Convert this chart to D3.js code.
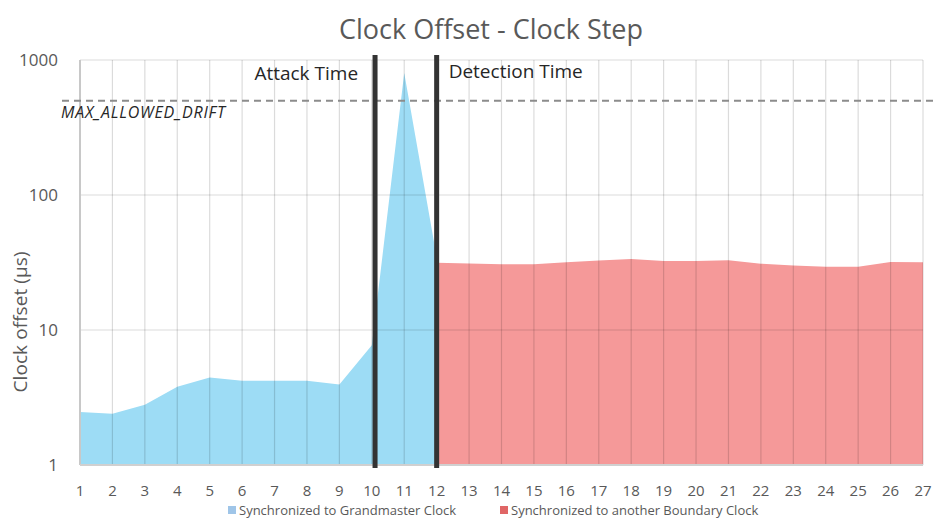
<!DOCTYPE html>
<html>
<head>
<meta charset="utf-8">
<script src="https://cdn.jsdelivr.net/npm/d3@7"></script>
<style>
  body { margin: 0; background: #fff; }
  text { font-family: "Open Sans", sans-serif; }
</style>
</head>
<body>
<div id="chart"></div>
<script>
// samples (x) and measured clock offset in µs
const gmSamples = [1, 2, 3, 4, 5, 6, 7, 8, 9, 10, 11, 12];
const gmOffset = [2.47, 2.4, 2.8, 3.8, 4.45, 4.2, 4.2, 4.2, 3.95, 7.7, 800, 34.7];
const bcSamples = [12, 13, 14, 15, 16, 17, 18, 19, 20, 21, 22, 23, 24, 25, 26, 27];
const bcOffset = [31.5, 31.1, 30.7, 30.7, 31.8, 32.7, 33.6, 32.4, 32.4, 32.9, 31, 30.1, 29.4, 29.4, 31.9, 31.7];
const xTicks = d3.range(1, 28);
const yTicks = [1, 10, 100, 1000];
const maxAllowedDrift = 500;
const markers = [
  {x: 10.1, label: "Attack Time", side: "left"},
  {x: 12, label: "Detection Time", side: "right"}
];
const seriesNames = ["Synchronized to Grandmaster Clock", "Synchronized to another Boundary Clock"];
const seriesColors = ["#9ddcf5", "#f59999"];

const width = 935, height = 519;
const margin = {top: 60, right: 12, bottom: 54, left: 80};

const svg = d3.select("#chart").append("svg")
    .attr("width", width)
    .attr("height", height);

const x = d3.scaleLinear().domain([1, 27]).range([margin.left, width - margin.right]);
const y = d3.scaleLog().domain([1, 1000]).range([height - margin.bottom, margin.top]);

// title
svg.append("text")
    .attr("x", 491).attr("y", 39)
    .attr("text-anchor", "middle")
    .attr("font-size", 27)
    .attr("fill", "#595959")
    .text("Clock Offset - Clock Step");

// areas
const area = (xs) => d3.area()
    .x((d, i) => x(xs[i]))
    .y0(y(1))
    .y1(d => y(d));

svg.append("path")
    .datum(gmOffset)
    .attr("fill", seriesColors[0])
    .attr("d", area(gmSamples));

svg.append("path")
    .datum(bcOffset)
    .attr("fill", seriesColors[1])
    .attr("d", area(bcSamples));

// grid drawn over the areas (semi-transparent)
const grid = svg.append("g").attr("stroke", "rgba(0,0,0,0.14)").attr("stroke-width", 1.2);
grid.selectAll(".vg").data(xTicks.slice(1)).join("line")
    .attr("x1", d => x(d)).attr("x2", d => x(d))
    .attr("y1", y(1000)).attr("y2", y(1));
grid.selectAll(".hg").data(yTicks.slice(1)).join("line")
    .attr("x1", x(1)).attr("x2", x(27))
    .attr("y1", d => y(d)).attr("y2", d => y(d));

// axis lines
svg.append("line")
    .attr("x1", x(1)).attr("x2", x(1))
    .attr("y1", y(1000)).attr("y2", y(1))
    .attr("stroke", "#c8c8c8").attr("stroke-width", 2);
svg.append("line")
    .attr("x1", x(1)).attr("x2", x(27))
    .attr("y1", y(1)).attr("y2", y(1))
    .attr("stroke", "#d0d0d0").attr("stroke-width", 2);

// y tick labels
svg.append("g").selectAll("text").data(yTicks).join("text")
    .attr("x", 58).attr("y", d => y(d) + 6)
    .attr("text-anchor", "end")
    .attr("font-size", 17)
    .attr("fill", "#595959")
    .text(d => d);

// x tick labels
svg.append("g").selectAll("text").data(xTicks).join("text")
    .attr("x", d => x(d)).attr("y", 496)
    .attr("text-anchor", "middle")
    .attr("font-size", 15)
    .attr("fill", "#595959")
    .text(d => d);

// y axis title
svg.append("text")
    .attr("transform", "translate(27,322) rotate(-90)")
    .attr("text-anchor", "middle")
    .attr("font-size", 19)
    .attr("textLength", 141)
    .attr("lengthAdjust", "spacing")
    .attr("fill", "#595959")
    .text("Clock offset (µs)");

// max allowed drift
svg.append("line")
    .attr("x1", 62).attr("x2", 933)
    .attr("y1", y(maxAllowedDrift)).attr("y2", y(maxAllowedDrift))
    .attr("stroke", "#8c8c8c")
    .attr("stroke-width", 2)
    .attr("stroke-dasharray", "7,5");
svg.append("text")
    .attr("x", 61).attr("y", y(maxAllowedDrift) + 17)
    .attr("font-size", 16)
    .attr("textLength", 164)
    .attr("lengthAdjust", "spacing")
    .attr("font-style", "italic")
    .attr("fill", "#262626")
    .text("MAX_ALLOWED_DRIFT");

// attack / detection markers
markers.forEach(m => {
  svg.append("line")
      .attr("x1", x(m.x)).attr("x2", x(m.x))
      .attr("y1", 55).attr("y2", y(1) + 3)
      .attr("stroke", "#333")
      .attr("stroke-width", 5);
  svg.append("text")
      .attr("x", m.side === "left" ? x(m.x) - 17 : x(m.x) + 12)
      .attr("y", m.side === "left" ? 80 : 78)
      .attr("text-anchor", m.side === "left" ? "end" : "start")
      .attr("font-size", 19)
      .attr("fill", "#262626")
      .text(m.label);
});

// legend
const legendX = [228, 500];
const legend = svg.append("g").selectAll("g").data(seriesNames).join("g")
    .attr("transform", (d, i) => "translate(" + legendX[i] + ",515)");
legend.append("rect")
    .attr("x", 0).attr("y", -9).attr("width", 8).attr("height", 8)
    .attr("fill", (d, i) => i === 0 ? "#9fc5e8" : "#e06666");
legend.append("text")
    .attr("x", 11).attr("y", 0)
    .attr("font-size", 13)
    .attr("fill", "#595959")
    .text(d => d);
</script>
</body>
</html>
